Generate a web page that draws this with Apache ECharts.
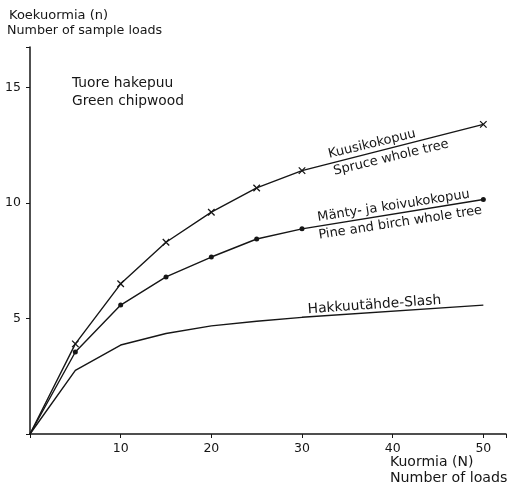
<!DOCTYPE html>
<html>
<head>
<meta charset="utf-8">
<script src="https://cdn.jsdelivr.net/npm/echarts@6/dist/echarts.min.js"></script>
<style>
  html, body { margin: 0; padding: 0; background: #fff; }
  #chart { width: 509px; height: 486px; }
</style>
</head>
<body>
<div id="chart"></div>
<script>
// Number of loads (N)
const loads = [0, 5, 10, 15, 20, 25, 30, 50];
// Number of sample loads (n) per material
const spruceWholeTree = [0, 3.9, 6.5, 8.3, 9.6, 10.65, 11.4, 13.4];
const pineBirchWholeTree = [0, 3.55, 5.58, 6.8, 7.66, 8.44, 8.88, 10.15];
const slash = [0, 2.75, 3.85, 4.35, 4.68, 4.88, 5.05, 5.58];
// Axis ticks
const xTicks = [10, 20, 30, 40, 50];
const yTicks = [5, 10, 15];

const FONT = 'DejaVu Sans';
const INK = '#161616';

const pairs = (ys) => loads.map((x, i) => [x, ys[i]]);
const crossPath = 'path://M0,0L10,10M10,0L0,10';

const chart = echarts.init(document.getElementById('chart'), null, { renderer: 'canvas' });

const option = {
  animation: false,
  backgroundColor: '#fff',
  grid: { left: 30, right: 0, top: 47, bottom: 52 },
  xAxis: {
    type: 'value', min: 0, max: 52.5, interval: 10,
    axisLine: { lineStyle: { color: INK, width: 1.5 } },
    axisTick: { show: true, length: 4, inside: false, lineStyle: { color: INK } },
    axisLabel: {
      color: INK, fontFamily: FONT, fontSize: 12.5, margin: 8,
      formatter: (v) => (xTicks.includes(v) ? String(v) : '')
    },
    splitLine: { show: false }
  },
  yAxis: {
    type: 'value', min: 0, max: 16.75, interval: 5,
    axisLine: { show: true, lineStyle: { color: INK, width: 1.5 } },
    axisTick: { show: true, length: 4, lineStyle: { color: INK } },
    axisLabel: {
      color: INK, fontFamily: FONT, fontSize: 12.5, margin: 9,
      formatter: (v) => (yTicks.includes(v) ? String(v) : '')
    },
    splitLine: { show: false }
  },
  series: [
    {
      name: 'Spruce whole tree', type: 'line', data: pairs(spruceWholeTree),
      symbol: (val) => (val[0] === 0 ? 'none' : crossPath), symbolSize: 6.5,
      lineStyle: { color: INK, width: 1.4 },
      itemStyle: { color: INK, borderColor: INK, borderWidth: 1.3 }
    },
    {
      name: 'Pine and birch whole tree', type: 'line', data: pairs(pineBirchWholeTree),
      symbol: (val) => (val[0] === 0 ? 'none' : 'circle'), symbolSize: 5,
      lineStyle: { color: INK, width: 1.4 },
      itemStyle: { color: INK, borderColor: INK, borderWidth: 0 }
    },
    {
      name: 'Slash', type: 'line', data: pairs(slash), symbol: 'none',
      lineStyle: { color: INK, width: 1.4 }
    }
  ]
};
chart.setOption(option);

// Curve names written along the curves: a rotated group anchored on the
// curve, with the text pushed off the curve by dy along the local y axis.
function curveText(x, y, text, rot, dy, size) {
  const p = chart.convertToPixel({ gridIndex: 0 }, [x, y]);
  return {
    type: 'group', x: p[0], y: p[1], rotation: rot * Math.PI / 180,
    children: [{
      type: 'text', x: 0, y: dy,
      style: { text, fill: INK, font: (size || 13) + 'px "' + FONT + '"', align: 'center', verticalAlign: 'middle' }
    }]
  };
}

const plain = (x, y, text, size) => ({
  type: 'text', left: x, top: y,
  style: { text, fill: INK, font: (size || 13) + 'px "' + FONT + '"' }
});

chart.setOption({
  graphic: [
    plain(9, 9, 'Koekuormia (n)', 13),
    plain(7, 24, 'Number of sample loads', 12.7),
    plain(72, 76, 'Tuore hakepuu', 13.8),
    plain(72, 94, 'Green chipwood', 13.8),
    plain(390, 455, 'Kuormia (N)', 14),
    plain(390, 471, 'Number of loads', 14.2),
    curveText(37.94, 12.19, 'Kuusikokopuu', 13.5, -8.5),
    curveText(39.58, 12.36, 'Spruce whole tree', 13.5, 9.5),
    curveText(40.24, 9.53, 'Mänty- ja koivukokopuu', 8.7, -8),
    curveText(40.68, 9.56, 'Pine and birch whole tree', 8.7, 9.8),
    curveText(38.05, 5.26, 'Hakkuutähde-Slash', 4, -7.5, 13.8)
  ]
});
</script>
</body>
</html>
